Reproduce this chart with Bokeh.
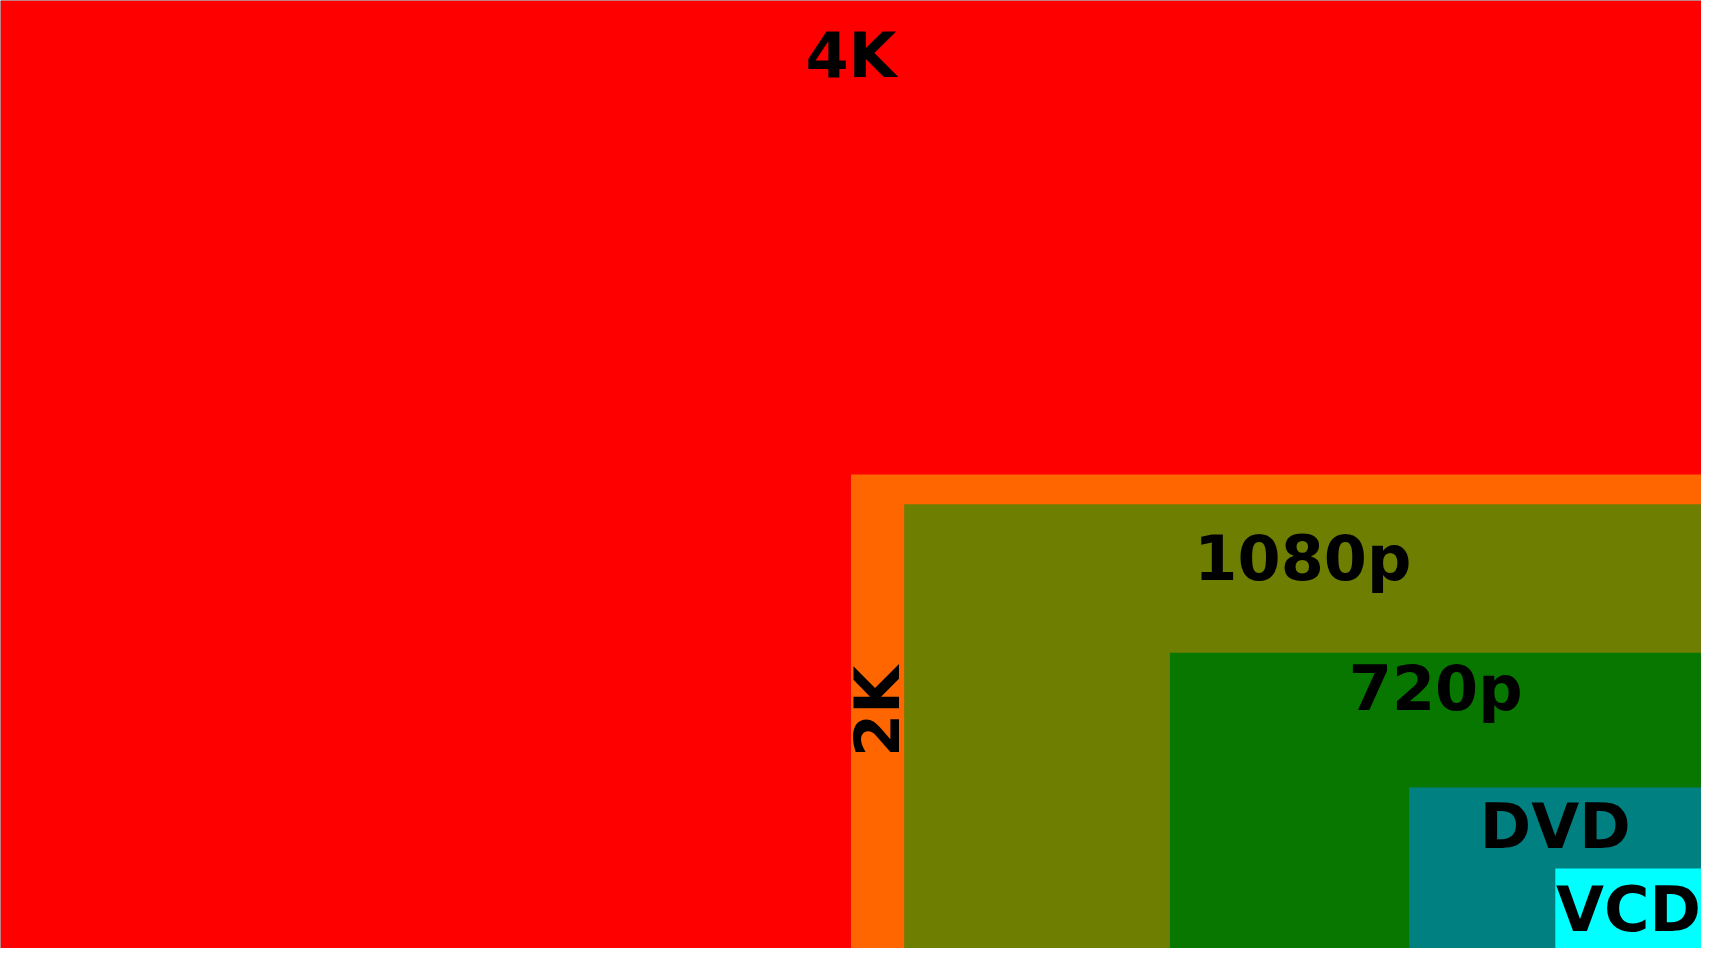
from math import pi
from bokeh.plotting import figure
from bokeh.models import ColumnDataSource, Range1d
from bokeh.core.properties import value
from bokeh.embed import file_html
from bokeh.resources import INLINE

# ---- data ----
formats = ["4K", "2K", "1080p", "720p", "DVD", "VCD"]
widths = [4096, 2048, 1920, 1280, 704, 352]
heights = [2160, 1080, 1012, 674, 367, 182]

# ---- styles ----
colors = ["#ff0000", "#ff6600", "#6e7e00", "#087700", "#008080", "#00ffff"]
label_dy = [55, 0, 54, 36, 39, 41]  # text offset below each box top, px

W, H = 1701, 948
x_max = widths[0]

left = [x_max - w for w in widths]
right = [x_max] * len(widths)
src = ColumnDataSource(dict(left=left, right=right, bottom=[0] * len(widths),
                            top=heights, color=colors))

p = figure(width=W, height=H, output_backend="svg", toolbar_location=None,
           x_axis_location=None, y_axis_location=None,
           x_range=Range1d(0, x_max), y_range=Range1d(0, heights[0]),
           min_border_left=0, min_border_right=0, min_border_top=0, min_border_bottom=0)
p.grid.visible = False
p.outline_line_color = None
p.border_fill_color = "#5a5a5a"
p.background_fill_color = "#5a5a5a"

p.quad(left="left", right="right", bottom="bottom", top="top",
       fill_color="color", line_color=None, source=src)

# top-centred labels
idx = [i for i in range(len(formats)) if i != 1]
lab = ColumnDataSource(dict(
    x=[x_max - widths[i] / 2 for i in idx],
    y=[heights[i] for i in idx],
    t=[formats[i] for i in idx],
    dy=[label_dy[i] for i in idx],
))
p.text(x="x", y="y", text="t", y_offset="dy", source=lab,
       text_font=value("DejaVu Sans"), text_font_style="bold",
       text_font_size=value("62px"), text_color="#000000",
       text_align="center", text_baseline="alphabetic")

# rotated 2K label in the strip between 2K and 1080p
side = ColumnDataSource(dict(
    x=[x_max - (widths[1] + widths[2]) / 2],
    y=[heights[1] / 2],
    t=[formats[1]],
))
p.text(x="x", y="y", text="t", angle=pi / 2, source=side,
       text_font=value("DejaVu Sans"), text_font_style="bold",
       text_font_size=value("62px"), text_color="#000000",
       text_align="center", text_baseline="middle")

open("out.html", "w").write(file_html(p, INLINE))
